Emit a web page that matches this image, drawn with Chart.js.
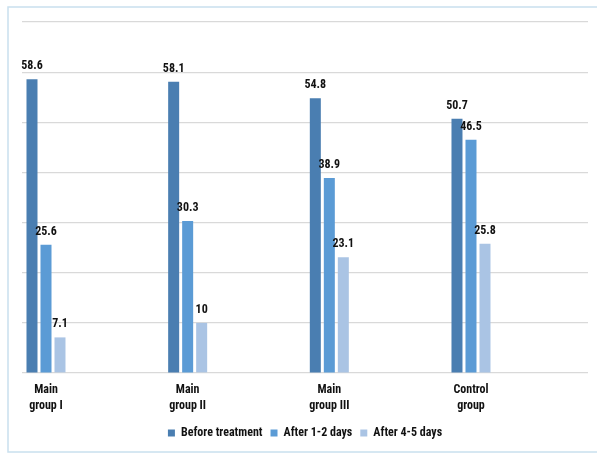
<!DOCTYPE html>
<html>
<head>
<meta charset="utf-8">
<script src="https://cdn.jsdelivr.net/npm/chart.js@4/dist/chart.umd.min.js"></script>
<style>
  html, body { margin: 0; padding: 0; background: #fff; }
  #wrap { position: relative; width: 597px; height: 453px; }
</style>
</head>
<body>
<div id="wrap"><canvas id="c" width="597" height="453"></canvas></div>
<script>
// Groups and the three measurement times
const categories = [['Main', 'group I'], ['Main', 'group II'], ['Main', 'group III'], ['Control', 'group']];
const seriesNames = ['Before treatment', 'After 1-2 days', 'After 4-5 days'];
const beforeTreatment = [58.6, 58.1, 54.8, 50.7];
const after1to2Days = [25.6, 30.3, 38.9, 46.5];
const after4to5Days = [7.1, 10, 23.1, 25.8];
const yTicks = [0, 10, 20, 30, 40, 50, 60, 70];

const FONT = "'Roboto Condensed', 'DejaVu Sans Condensed', sans-serif";
const colors = ['#4a7eb1', '#5b9bd5', '#aac4e4'];
const seriesValues = [beforeTreatment, after1to2Days, after4to5Days];

const datasets = seriesValues.map((vals, s) => ({
  label: seriesNames[s],
  data: vals.map((v, i) => ({ x: i, y: v })),
  backgroundColor: colors[s],
  borderWidth: 0,
  categoryPercentage: 0.2965,
  barPercentage: 0.786
}));

// Outer light-blue frame of the figure
const framePlugin = {
  id: 'frame',
  beforeDraw(chart) {
    const ctx = chart.ctx;
    ctx.save();
    ctx.fillStyle = '#ffffff';
    ctx.fillRect(0, 0, chart.width, chart.height);
    ctx.strokeStyle = '#c9e0ee';
    ctx.lineWidth = 1.5;
    ctx.strokeRect(8, 7, 620, 445);
    ctx.restore();
  }
};

// Value labels above each bar
const valueLabels = {
  id: 'valueLabels',
  afterDatasetsDraw(chart) {
    const ctx = chart.ctx;
    ctx.save();
    ctx.font = 'bold 12px ' + FONT;
    ctx.fillStyle = '#111';
    ctx.textAlign = 'center';
    ctx.textBaseline = 'alphabetic';
    chart.data.datasets.forEach((ds, di) => {
      const meta = chart.getDatasetMeta(di);
      meta.data.forEach((bar, i) => {
        ctx.fillText(String(seriesValues[di][i]), bar.x, bar.y - 10);
      });
    });
    ctx.restore();
  }
};

new Chart(document.getElementById('c'), {
  type: 'bar',
  data: { datasets },
  plugins: [framePlugin, valueLabels],
  options: {
    responsive: false,
    animation: false,
    devicePixelRatio: 1,
    layout: { padding: { left: 22, right: 9, top: 22, bottom: 4 } },
    scales: {
      x: {
        type: 'linear',
        min: -0.1694,
        max: 3.826,
        offset: false,
        afterBuildTicks(scale) {
          scale.ticks = categories.map((c, i) => ({ value: i }));
        },
        afterFit(scale) { scale.height -= 4; },
        ticks: {
          autoSkip: false,
          maxRotation: 0,
          padding: 9,
          color: '#111',
          font: { family: FONT, size: 12, weight: 'bold', lineHeight: '16px' },
          callback: (v) => categories[v]
        },
        grid: { display: false, drawTicks: false },
        border: { display: false }
      },
      y: {
        min: yTicks[0],
        max: yTicks[yTicks.length - 1],
        afterBuildTicks(scale) {
          scale.ticks = yTicks.map(v => ({ value: v }));
        },
        afterFit(scale) { scale.width = 0; },
        ticks: { display: false },
        grid: { color: '#d9d9d9', lineWidth: 1.2, drawTicks: false },
        border: { display: false }
      }
    },
    plugins: {
      tooltip: { enabled: false },
      legend: {
        position: 'bottom',
        labels: {
          boxWidth: 7,
          boxHeight: 7,
          padding: 8,
          color: '#111',
          font: { family: FONT, size: 12, weight: 'bold' }
        }
      }
    }
  }
});
</script>
</body>
</html>
